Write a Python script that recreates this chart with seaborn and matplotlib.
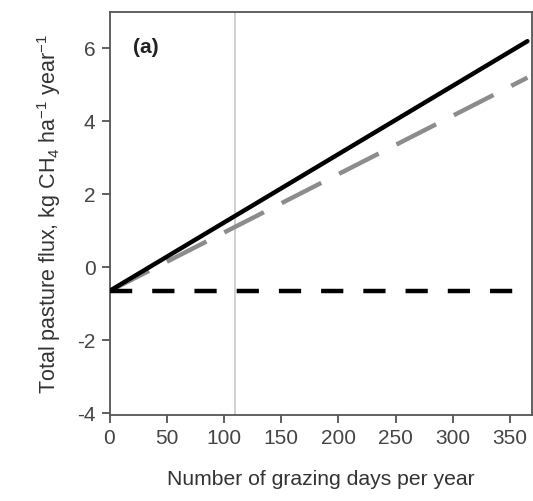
import matplotlib
matplotlib.use("Agg")
import matplotlib.pyplot as plt
import seaborn as sns
import pandas as pd

# Data
grazing_days = [0, 365]
total_flux = [-0.65, 6.2]
alt_flux = [-0.65, 5.2]
no_grazing_flux = [-0.65, -0.65]
grazing_marker = 110
x_ticks = [0, 50, 100, 150, 200, 250, 300, 350]
y_ticks = [-4, -2, 0, 2, 4, 6]

sns.set_style("white")
fam = ['Liberation Sans', 'DejaVu Sans']
plt.rcParams['font.family'] = fam
plt.rcParams['axes.unicode_minus'] = False
plt.rcParams['mathtext.fontset'] = 'custom'
plt.rcParams['mathtext.rm'] = 'Liberation Sans'

fig = plt.figure(figsize=(5.33, 5.01), dpi=100)
ax = fig.add_axes([109.5/533, 1 - 415/501, (532 - 109.5)/533, (415 - 12)/501])

df = pd.DataFrame({"x": grazing_days, "total": total_flux, "alt": alt_flux, "none": no_grazing_flux})

ax.axvline(grazing_marker, color="#c8c8c8", lw=1.2, zorder=1)
sns.lineplot(data=df, x="x", y="none", ax=ax, color="black", lw=3.2,
             linestyle=(0, (5, 4.5)), zorder=3)
sns.lineplot(data=df, x="x", y="alt", ax=ax, color="#8c8c8c", lw=3.2,
             linestyle=(0, (10, 4.5)), zorder=2)
sns.lineplot(data=df, x="x", y="total", ax=ax, color="black", lw=3.2, zorder=4)

ax.set_xlim(0, 369)
ax.set_ylim(-4.05, 7.0)
ax.set_xticks(x_ticks)
ax.set_yticks(y_ticks)
ax.tick_params(axis="both", which="both", direction="out", length=6, width=1.2,
               colors="#444444", labelsize=15, left=True, bottom=True, pad=4)
for s in ax.spines.values():
    s.set_visible(True)
    s.set_color("#555555")
    s.set_linewidth(1.3)

ax.set_xlabel("Number of grazing days per year", fontsize=15.2, color="#333333", labelpad=16)
ax.set_ylabel("Total pasture flux, kg CH$_4$ ha$^{-1}$ year$^{-1}$", fontsize=15.5,
              color="#333333", labelpad=10)
ax.text(0.055, 0.935, "(a)", transform=ax.transAxes, fontsize=15, fontweight="bold",
        color="#222222", va="top", ha="left")

fig.savefig("out.png", dpi=100)
